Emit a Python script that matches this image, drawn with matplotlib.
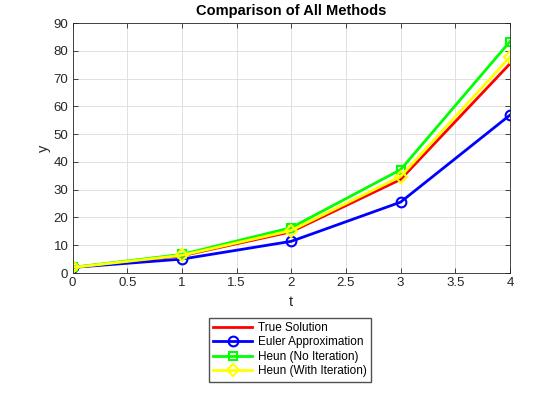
import matplotlib.pyplot as plt

plt.rcParams["font.family"] = ["Liberation Sans", "DejaVu Sans"]

t = [0, 1, 2, 3, 4]
y_true = [2.0, 6.1946, 14.8439, 33.6772, 75.3390]
y_euler = [2.0, 5.0, 11.4022, 25.5132, 56.8493]
y_heun = [2.0, 6.7011, 16.3198, 37.1992, 83.3378]
y_heun_iter = [2.0, 6.3609, 15.3022, 34.7433, 77.7351]

fig = plt.figure(figsize=(5.6, 4.2), dpi=100)
ax = fig.add_axes([0.1295, 0.35, 0.781, 0.595])

ax.plot(t, y_true, color="#ff0000", linewidth=2, label="True Solution")
ax.plot(t, y_euler, color="#0000ff", linewidth=2, marker="o", markersize=7,
        markerfacecolor="none", markeredgewidth=1.5, label="Euler Approximation")
ax.plot(t, y_heun, color="#00ff00", linewidth=2, marker="s", markersize=6,
        markerfacecolor="none", markeredgewidth=1.5, label="Heun (No Iteration)")
ax.plot(t, y_heun_iter, color="#ffff00", linewidth=2, marker="D", markersize=6,
        markerfacecolor="none", markeredgewidth=1.5, label="Heun (With Iteration)")

ax.set_xlim(0, 4)
ax.set_ylim(0, 90)
ax.set_xticks([0, 0.5, 1, 1.5, 2, 2.5, 3, 3.5, 4])
ax.set_xticklabels(["0", "0.5", "1", "1.5", "2", "2.5", "3", "3.5", "4"])
ax.set_yticks(range(0, 91, 10))

ax.grid(True, color="#dcdcdc", linewidth=0.6)
ax.set_axisbelow(True)
ax.tick_params(direction="in", top=True, right=True, labelsize=9.5,
               colors="#262626", length=3.5, width=0.6, pad=3)
for spine in ax.spines.values():
    spine.set_color("#262626")
    spine.set_linewidth(0.6)

ax.set_title("Comparison of All Methods", fontsize=10.5, fontweight="bold", pad=6)
ax.set_xlabel("t", fontsize=10.5, color="#262626", labelpad=4)
ax.set_ylabel("y", fontsize=10.5, color="#262626", labelpad=2)

fig.legend(loc="upper center", bbox_to_anchor=(0.5185, 0.244), fontsize=8.5,
           frameon=True, fancybox=False, edgecolor="#262626",
           handlelength=3.3, borderpad=0.35, labelspacing=0.22, handletextpad=0.5,
           borderaxespad=0)

fig.savefig("out.png", dpi=100, facecolor="white")
